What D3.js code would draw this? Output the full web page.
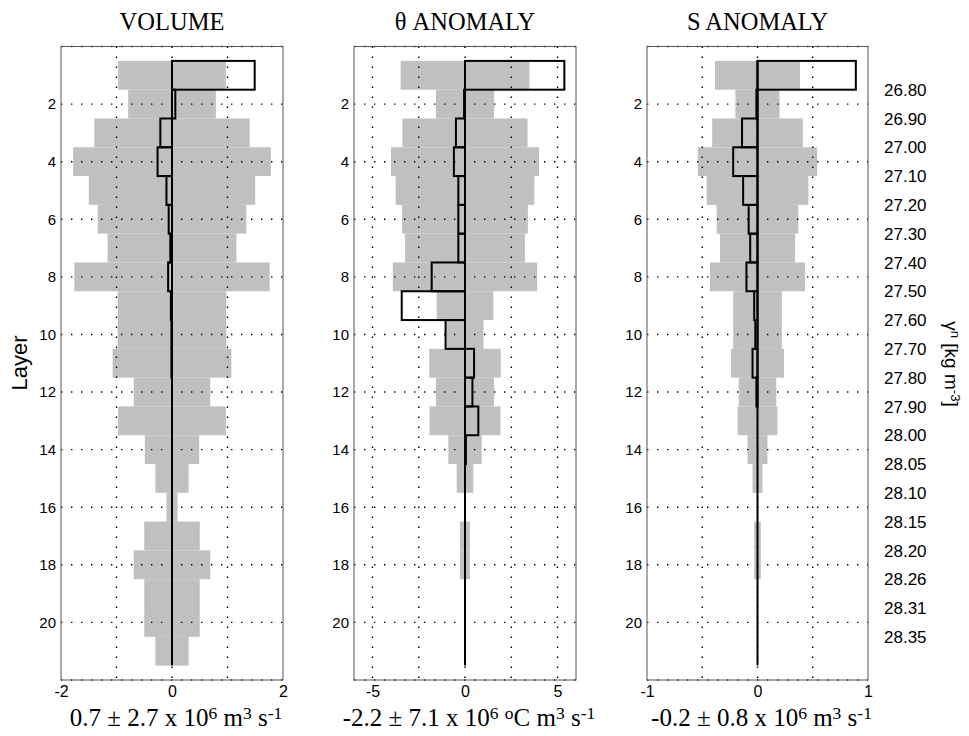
<!DOCTYPE html>
<html>
<head>
<meta charset="utf-8">
<script src="https://d3js.org/d3.v7.min.js"></script>
<style>
  body { margin: 0; background: #fff; }
</style>
</head>
<body>
<div id="chart"></div>
<script>
// layer numbers (1 = lightest)
const layers = [1, 2, 3, 4, 5, 6, 7, 8, 9, 10, 11, 12, 13, 14, 15, 16, 17, 18, 19, 20, 21];

// neutral density at the interfaces between layers
const densityLabels = ["26.80", "26.90", "27.00", "27.10", "27.20", "27.30", "27.40", "27.50",
  "27.60", "27.70", "27.80", "27.90", "28.00", "28.05", "28.10", "28.15", "28.20", "28.26",
  "28.31", "28.35"];

// volume transport per layer (mean, std)
const volMean = [1.49, 0.06, -0.21, -0.26, -0.10, -0.06, -0.03, -0.07, -0.02, -0.01, -0.01,
  0, 0, 0, 0, 0, 0, 0, 0, 0, 0];
const volStd = [0.97, 0.79, 1.40, 1.78, 1.50, 1.34, 1.16, 1.76, 0.98, 0.98, 1.07,
  0.69, 0.97, 0.49, 0.30, 0.10, 0.50, 0.69, 0.50, 0.50, 0.30];

// theta anomaly transport
const thetaMean = [5.37, -0.05, -0.49, -0.60, -0.36, -0.36, -0.36, -1.80, -3.42, -1.05, 0.49,
  0.40, 0.72, 0.05, 0, 0, 0, 0, 0, 0, 0];
const thetaStd = [3.48, 1.57, 3.38, 4.00, 3.75, 3.40, 3.24, 3.90, 1.53, 1.00, 1.93,
  1.57, 1.92, 0.90, 0.45, 0, 0.27, 0.27, 0, 0, 0];

// salinity anomaly transport
const saltMean = [0.89, -0.01, -0.14, -0.22, -0.13, -0.08, -0.066, -0.10, -0.03, -0.02, -0.045,
  -0.01, 0, 0, 0, 0, 0, 0, 0, 0, 0];
const saltStd = [0.385, 0.20, 0.41, 0.54, 0.46, 0.37, 0.34, 0.43, 0.22, 0.22, 0.24,
  0.17, 0.18, 0.09, 0.045, 0, 0.03, 0.03, 0, 0, 0];

const layerTicks = [2, 4, 6, 8, 10, 12, 14, 16, 18, 20];
const gridRows = [0, 2, 4, 6, 8, 10, 12, 14, 16, 18, 20, 22];

const panels = [
  { title: [["VOLUME"]], mean: volMean, std: volStd, domain: [-2, 2], range: [61, 283],
    ticks: [-2, 0, 2], grid: [-1, 0, 1],
    label: [["0.7 \u00b1 2.7 x 10"], ["6", 1], [" m"], ["3", 1], [" s"], ["-1", 1]] },
  { title: [["\u03b8 ANOMALY"]], mean: thetaMean, std: thetaStd, domain: [-6, 6], range: [354, 576],
    ticks: [-5, 0, 5], grid: [-5, -2.5, 0, 2.5, 5],
    label: [["-2.2 \u00b1 7.1 x 10"], ["6", 1], [" "], ["o", 1], ["C m"], ["3", 1], [" s"], ["-1", 1]] },
  { title: [["S ANOMALY"]], mean: saltMean, std: saltStd, domain: [-1, 1], range: [647, 868],
    ticks: [-1, 0, 1], grid: [-0.5, 0, 0.5],
    label: [["-0.2 \u00b1 0.8 x 10"], ["6", 1], [" m"], ["3", 1], [" s"], ["-1", 1]] }
];

const width = 969, height = 736;
const serif = "Liberation Serif, Times New Roman, serif";
const sans = "Liberation Sans, Arial, sans-serif";

const svg = d3.select("#chart").append("svg")
  .attr("width", width).attr("height", height);

const y = d3.scaleLinear().domain([0, 22]).range([46.5, 680]);

function richText(sel, parts, size) {
  const up = size * 0.3;
  parts.forEach(function(p, i) {
    const t = sel.append("tspan").text(p[0]);
    const prevSup = i > 0 && parts[i - 1][1];
    if (p[1]) {
      t.attr("font-size", size * 0.7).attr("dy", prevSup ? 0 : -up);
    } else {
      t.attr("dy", prevSup ? up : 0);
    }
  });
}

panels.forEach(function(p) {
  const x = d3.scaleLinear().domain(p.domain).range(p.range);
  const g = svg.append("g");
  const x0 = p.range[0], x1 = p.range[1];

  // standard deviation band
  g.selectAll("rect.std").data(layers).enter().append("rect")
    .attr("class", "std")
    .attr("x", (d, i) => x(-p.std[i]))
    .attr("width", (d, i) => x(p.std[i]) - x(-p.std[i]))
    .attr("y", d => y(d - 0.5))
    .attr("height", d => y(d + 0.5) - y(d - 0.5))
    .attr("fill", "#c0c0c0");

  // dotted grid
  g.selectAll("line.gx").data(p.grid).enter().append("line")
    .attr("x1", d => x(d)).attr("x2", d => x(d))
    .attr("y1", y(0)).attr("y2", y(22))
    .attr("stroke", "#000").attr("stroke-width", 1.4)
    .attr("stroke-dasharray", "1.4,8.6");
  g.selectAll("line.gy").data(gridRows).enter().append("line")
    .attr("x1", x0).attr("x2", x1)
    .attr("y1", d => y(d)).attr("y2", d => y(d))
    .attr("stroke", "#000").attr("stroke-width", 1.4)
    .attr("stroke-dasharray", "1.4,8.6");

  // mean transport per layer
  g.selectAll("rect.mean").data(layers).enter().append("rect")
    .attr("x", (d, i) => Math.min(x(0), x(p.mean[i])))
    .attr("width", (d, i) => Math.abs(x(p.mean[i]) - x(0)))
    .attr("y", d => y(d - 0.5))
    .attr("height", d => y(d + 0.5) - y(d - 0.5))
    .attr("fill", "none").attr("stroke", "#000").attr("stroke-width", 2);

  // zero line through all layers
  g.append("line")
    .attr("x1", x(0)).attr("x2", x(0))
    .attr("y1", y(layers[0] - 0.5)).attr("y2", y(layers[layers.length - 1] + 0.5))
    .attr("stroke", "#000").attr("stroke-width", 2);

  // frame
  g.append("rect")
    .attr("x", x0).attr("y", y(0))
    .attr("width", x1 - x0).attr("height", y(22) - y(0))
    .attr("fill", "none").attr("stroke", "#555").attr("stroke-width", 1);

  // axes
  const xa = g.append("g").attr("transform", "translate(0," + y(22) + ")")
    .call(d3.axisBottom(x).tickValues(p.ticks).tickSize(0).tickPadding(6).tickFormat(d => String(d)));
  xa.select(".domain").remove();
  xa.selectAll("text").attr("font-family", sans).attr("font-size", 16).attr("fill", "#000");

  const ya = g.append("g").attr("transform", "translate(" + x0 + ",0)")
    .call(d3.axisLeft(y).tickValues(layerTicks).tickSize(0).tickPadding(5));
  ya.select(".domain").remove();
  ya.selectAll("text").attr("font-family", sans).attr("font-size", 15).attr("fill", "#000");

  // title and unit label
  const cx = x(0);
  richText(g.append("text").attr("x", cx).attr("y", 30).attr("text-anchor", "middle")
    .attr("font-family", serif).attr("font-size", 24.5), p.title, 24.5);
  richText(g.append("text").attr("x", (x0 + x1) / 2 + 4).attr("y", 726).attr("text-anchor", "middle")
    .attr("font-family", serif).attr("font-size", 25), p.label, 25);
});

// left axis title
svg.append("text")
  .attr("transform", "translate(27,363) rotate(-90)")
  .attr("text-anchor", "middle")
  .attr("font-family", sans).attr("font-size", 22)
  .text("Layer");

// density labels on the right
svg.append("g").selectAll("text").data(densityLabels).enter().append("text")
  .attr("x", 884)
  .attr("y", (d, i) => y(layers[i] + 0.5))
  .attr("dy", "0.36em")
  .attr("font-family", sans).attr("font-size", 17)
  .text(d => d);

const rl = svg.append("text")
  .attr("transform", "translate(945,364) rotate(90)")
  .attr("text-anchor", "middle")
  .attr("font-family", sans).attr("font-size", 19);
richText(rl, [["\u03b3"], ["n", 1], [" [kg m"], ["-3", 1], ["]"]], 19);
</script>
</body>
</html>
